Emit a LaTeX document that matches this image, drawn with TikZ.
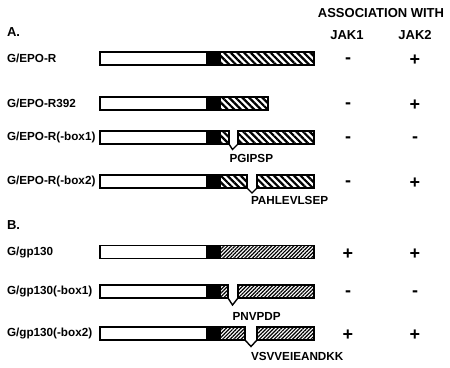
\documentclass[tikz,border=0pt]{standalone}
\usepackage{fontspec}
\setmainfont{Liberation Sans}
\usetikzlibrary{positioning,patterns.meta}

\begin{document}
\begin{tikzpicture}[
    x=1pt, y=-1pt,
    every node/.style={inner sep=0pt, outer sep=0pt, font=\fontsize{11.7}{13}\selectfont\bfseries},
    rowlbl/.style={anchor=west},
    head/.style={font=\fontsize{13}{15}\selectfont\bfseries},
    sign/.style={font=\fontsize{18}{18}\selectfont\bfseries, yshift=-2pt},
    seg/.style={draw, line width=1.4pt, minimum height=13pt},
    tm/.style={seg, fill=white, minimum width=107pt, anchor=west},
    jm/.style={seg, fill=black, minimum width=13pt},
    epohatch/.style={seg, pattern={Lines[angle=-45, distance=4.7pt, line width=2.2pt]}},
    gphatch/.style={seg, pattern={Lines[angle=45, distance=2.6pt, line width=1.2pt]}},
    vee/.style={line width=1.4pt},
    pep/.style={anchor=north west}
]
\useasboundingbox (0,0) rectangle (450,367);

\node[head] (assoc) at (381,13) {ASSOCIATION WITH};
\node[head] (jak1) at (347,35) {JAK1};
\node[head] (jak2) at (415,35) {JAK2};
\node[rowlbl, head] (partA) at (7,32) {A.};
\node[rowlbl, head] (partB) at (7,225) {B.};

\node[rowlbl] (epo) at (7,58.5) {G/EPO-R};
\node[tm] (epoT) at (100,58.5) {};
\node[jm, right=0pt of epoT] (epoJ) {};
\node[epohatch, minimum width=94pt, right=0pt of epoJ] (epoH) {};
\node[sign] (epo1) at (348,58.5) {-};
\node[sign] (epo2) at (415,58.5) {+};

\node[rowlbl] (r392) at (7,103.5) {G/EPO-R392};
\node[tm] (r392T) at (100,103.5) {};
\node[jm, right=0pt of r392T] (r392J) {};
\node[epohatch, minimum width=48pt, right=0pt of r392J] (r392H) {};
\node[sign] (r3921) at (348,103.5) {-};
\node[sign] (r3922) at (415,103.5) {+};

\node[rowlbl] (eb1) at (7,137.5) {G/EPO-R(-box1)};
\node[tm] (eb1T) at (100,137.5) {};
\node[jm, right=0pt of eb1T] (eb1J) {};
\node[epohatch, minimum width=9pt, right=0pt of eb1J] (eb1H) {};
\node[epohatch, minimum width=76pt, right=9pt of eb1H] (eb1K) {};
\coordinate (eb1tip) at (232.5,149.5);
\draw[vee] (eb1H.south east) -- (eb1tip) -- (eb1K.south west);
\node[pep] (eb1pep) at ([xshift=-3pt, yshift=-5pt]eb1tip) {PGIPSP};
\node[sign] (eb11) at (348,137.5) {-};
\node[sign] (eb12) at (415,137.5) {-};

\node[rowlbl] (eb2) at (7,181.5) {G/EPO-R(-box2)};
\node[tm] (eb2T) at (100,181.5) {};
\node[jm, right=0pt of eb2T] (eb2J) {};
\node[epohatch, minimum width=27pt, right=0pt of eb2J] (eb2H) {};
\node[epohatch, minimum width=57pt, right=10pt of eb2H] (eb2K) {};
\coordinate (eb2tip) at (252,193);
\draw[vee] (eb2H.south east) -- (eb2tip) -- (eb2K.south west);
\node[pep] (eb2pep) at ([xshift=-1pt, yshift=-3pt]eb2tip) {PAHLEVLSEP};
\node[sign] (eb21) at (348,181.5) {-};
\node[sign] (eb22) at (415,181.5) {+};

\node[rowlbl] (gp) at (7,252) {G/gp130};
\node[tm] (gpT) at (100,252) {};
\node[jm, right=0pt of gpT] (gpJ) {};
\node[gphatch, minimum width=94pt, right=0pt of gpJ] (gpH) {};
\node[sign] (gp1) at (348,252) {+};
\node[sign] (gp2) at (415,252) {+};

\node[rowlbl] (gb1) at (7,291.5) {G/gp130(-box1)};
\node[tm] (gb1T) at (100,291.5) {};
\node[jm, right=0pt of gb1T] (gb1J) {};
\node[gphatch, minimum width=8pt, right=0pt of gb1J] (gb1H) {};
\node[gphatch, minimum width=76pt, right=10pt of gb1H] (gb1K) {};
\coordinate (gb1tip) at (232.5,305);
\draw[vee] (gb1H.south east) -- (gb1tip) -- (gb1K.south west);
\node[pep] (gb1pep) at ([xshift=0pt, yshift=-7pt]gb1tip) {PNVPDP};
\node[sign] (gb11) at (348,291.5) {-};
\node[sign] (gb12) at (415,291.5) {-};

\node[rowlbl] (gb2) at (7,333.5) {G/gp130(-box2)};
\node[tm] (gb2T) at (100,333.5) {};
\node[jm, right=0pt of gb2T] (gb2J) {};
\node[gphatch, minimum width=25pt, right=0pt of gb2J] (gb2H) {};
\node[gphatch, minimum width=57pt, right=12pt of gb2H] (gb2K) {};
\coordinate (gb2tip) at (251,346.5);
\draw[vee] (gb2H.south east) -- (gb2tip) -- (gb2K.south west);
\node[pep] (gb2pep) at ([xshift=0pt, yshift=-6pt]gb2tip) {VSVVEIEANDKK};
\node[sign] (gb21) at (348,333.5) {+};
\node[sign] (gb22) at (415,333.5) {+};
\end{tikzpicture}
\end{document}
